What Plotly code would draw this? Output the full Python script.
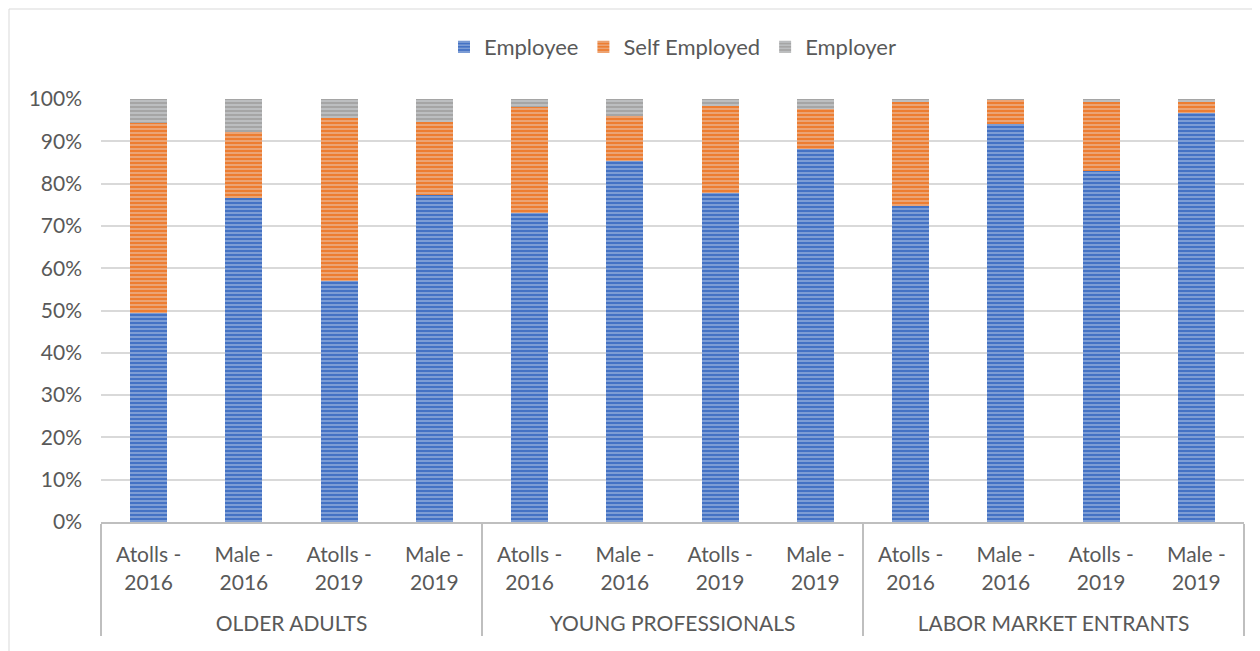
import plotly.graph_objects as go

GROUPS = ["OLDER ADULTS"] * 4 + ["YOUNG PROFESSIONALS"] * 4 + ["LABOR MARKET ENTRANTS"] * 4
LABELS = ["Atolls -<br>2016<br> ", "Male -<br>2016<br> ", "Atolls -<br>2019<br> ", "Male -<br>2019<br> "] * 3

employee      = [49.4, 76.5, 57.0, 77.2, 73.1, 85.4, 77.8, 88.2, 74.8, 94.2, 83.0, 96.6]
self_employed = [44.9, 15.6, 38.5, 17.4, 24.9, 10.6, 20.6, 9.4, 24.4, 5.6, 16.3, 2.8]
employer      = [5.7, 7.9, 4.5, 5.4, 2.0, 4.0, 1.6, 2.4, 0.8, 0.2, 0.7, 0.6]

TEXT = "#595959"
GRID = "#d9d9d9"
FONT = "Lato, Open Sans, sans-serif"

series = [
    ("Employee", employee, "#4472c4"),
    ("Self Employed", self_employed, "#ed7d31"),
    ("Employer", employer, "#a5a5a5"),
]

# page body has an 8px margin, so the figure is laid out 8px up/left of the target
L, R, T, B = 93, 24, 91, 137
PW, PH = 1260 - L - R, 651 - T - B

fig = go.Figure()
for name, vals, col in series:
    fig.add_trace(go.Bar(
        x=[GROUPS, LABELS], y=vals, name=name,
        marker=dict(color=col, line=dict(width=0),
                    pattern=dict(shape="-", fgcolor="#e8ecf4", size=4, solidity=0.35,
                                 fillmode="overlay")),
    ))

fig.update_layout(
    barmode="stack", bargap=0.61,
    width=1260, height=651,
    plot_bgcolor="white", paper_bgcolor="white",
    font=dict(family=FONT, color=TEXT, size=21),
    margin=dict(l=L, r=R, t=T, b=B, autoexpand=False),
    legend=dict(orientation="h", x=0.5, xanchor="center", y=1 + 52 / PH, yanchor="middle",
                font=dict(size=22, color=TEXT), itemwidth=30, traceorder="normal"),
    xaxis=dict(type="multicategory", showline=True, linecolor="#bfbfbf", linewidth=2,
               showdividers=True, dividercolor="#bfbfbf", dividerwidth=2, automargin=False,
               ticklabelstandoff=13, tickfont=dict(size=21, color=TEXT), ticks=""),
    yaxis=dict(range=[0, 100], dtick=10, ticksuffix="%", gridcolor=GRID, gridwidth=1.5,
               zeroline=False, showline=False, ticklabelstandoff=18, automargin=False,
               tickfont=dict(size=21, color=TEXT)),
    shapes=[dict(type="rect", xref="paper", yref="paper",
                 x0=(1 - L) / PW, x1=(1250 - L) / PW, y0=-(B + 10) / PH, y1=1 + (T - 1) / PH,
                 line=dict(color="#d9d9d9", width=1))],
)

fig.write_html("out.html")
